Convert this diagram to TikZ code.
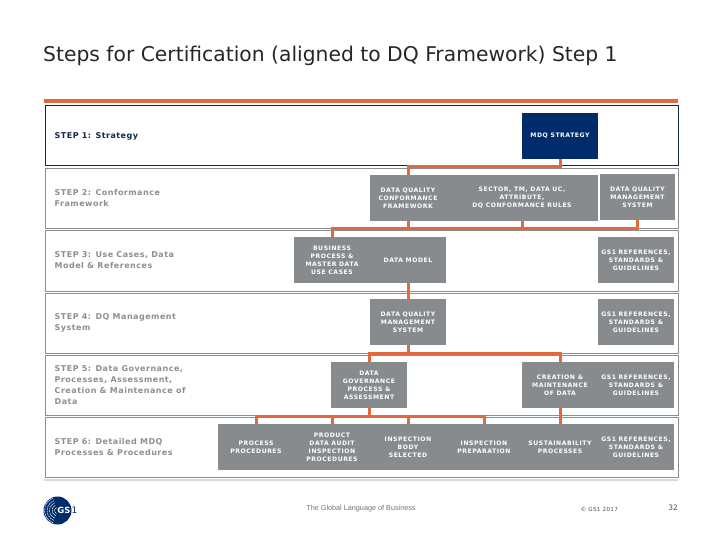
\documentclass[tikz,border=0pt]{standalone}
\usepackage{fontspec}
\setmainfont{DejaVu Sans}
\newfontfamily\boxfont[LetterSpace=9]{DejaVu Sans}
\newfontfamily\rowfont[LetterSpace=6]{DejaVu Sans}
\newfontfamily\footfont{Liberation Sans}
\definecolor{gsgray}{HTML}{888B8D}
\definecolor{gsorange}{HTML}{E0693F}
\definecolor{gsnavy}{HTML}{002C6C}
\definecolor{gsdark}{HTML}{0F2A47}
\definecolor{rowgray}{HTML}{8C8E90}
\tikzset{
 rowframe/.style={draw=rowgray,line width=0.9pt,minimum width=633pt,minimum height=60pt,inner sep=0pt,anchor=north west},
 rowlabel/.style={anchor=west,align=left,text=rowgray,inner sep=0pt,font=\rowfont\bfseries\fontsize{8}{10.9}\selectfont},
 gbox/.style={fill=gsgray,minimum width=76pt,minimum height=46pt,inner sep=0pt,align=center,text=white,font=\boxfont\bfseries\fontsize{6.1}{8.1}\selectfont},
 link/.style={draw=gsorange,line width=3pt}
}
\begin{document}
\begin{tikzpicture}[x=1pt,y=-1pt]
\useasboundingbox (0,0) rectangle (720,540);
\node[anchor=west,inner sep=0pt,font=\fontsize{20.3}{24}\selectfont,text=black!85] (title) at (43,56) {Steps for Certification (aligned to DQ Framework) Step 1};
\node[fill=gsorange,minimum width=634pt,minimum height=4.5pt,inner sep=0pt,anchor=north west] (topbar) at (44,98.5) {};
\node[rowframe,draw=gsdark] (r1) at (44.5,105) {};
\node[rowframe] (r2) at (44.5,168.5) {};
\node[rowframe] (r3) at (44.5,230.5) {};
\node[rowframe] (r4) at (44.5,292.5) {};
\node[rowframe] (r5) at (44.5,354.5) {};
\node[rowframe] (r6) at (44.5,417) {};
\node[fill=black!15,minimum width=634pt,minimum height=1.5pt,inner sep=0pt,anchor=north west] (shadow) at (44,479) {};
\node[rowlabel,text=gsdark] (l1) at (54.5,136) {STEP 1: Strategy};
\node[rowlabel] (l2) at (54.5,198) {STEP 2: Conformance\\Framework};
\node[rowlabel] (l3) at (54.5,260.5) {STEP 3: Use Cases, Data\\Model \& References};
\node[rowlabel] (l4) at (54.5,322.5) {STEP 4: DQ Management\\System};
\node[rowlabel] (l5) at (54.5,385) {STEP 5: Data Governance,\\Processes, Assessment,\\Creation \& Maintenance of\\Data};
\node[rowlabel] (l6) at (54.5,447) {STEP 6: Detailed MDQ\\Processes \& Procedures};
\node[gbox,fill=gsnavy] (mdq) at (560,136) {MDQ STRATEGY};
\node[gbox] (dqcf) at (408,198) {DATA QUALITY\\CONFORMANCE\\FRAMEWORK};
\node[gbox,minimum width=152pt] (sector) at (522,198) {SECTOR, TM, DATA UC,\\ATTRIBUTE,\\DQ CONFORMANCE RULES};
\node[gbox,minimum width=75pt] (dqms) at (637.5,197) {DATA QUALITY\\MANAGEMENT\\SYSTEM};
\node[gbox] (bp) at (332,260) {BUSINESS\\PROCESS \&\\MASTER DATA\\USE CASES};
\node[gbox] (dm) at (408,260) {DATA MODEL};
\node[gbox] (gsa) at (636,260) {GS1 REFERENCES,\\STANDARDS \&\\GUIDELINES};
\node[gbox] (dqm) at (408,322) {DATA QUALITY\\MANAGEMENT\\SYSTEM};
\node[gbox] (gsb) at (636,322) {GS1 REFERENCES,\\STANDARDS \&\\GUIDELINES};
\node[gbox] (dg) at (369,385) {DATA\\GOVERNANCE\\PROCESS \&\\ASSESSMENT};
\node[gbox] (cr) at (560,385) {CREATION \&\\MAINTENANCE\\OF DATA};
\node[gbox] (gsc) at (636,385) {GS1 REFERENCES,\\STANDARDS \&\\GUIDELINES};
\node[gbox] (pp) at (256,447) {PROCESS\\PROCEDURES};
\node[gbox] (pd) at (332,447) {PRODUCT\\DATA AUDIT\\INSPECTION\\PROCEDURES};
\node[gbox] (ib) at (408,447) {INSPECTION\\BODY\\SELECTED};
\node[gbox] (ip) at (484,447) {INSPECTION\\PREPARATION};
\node[gbox] (sp) at (560,447) {SUSTAINABILITY\\PROCESSES};
\node[gbox] (gsd) at (636,447) {GS1 REFERENCES,\\STANDARDS \&\\GUIDELINES};
% connectors
\draw[link] (mdq.south) -- ++(0,7.5) -| (dqcf.north);
\coordinate (busb) at (0,228.5);
\draw[link] (bp.north) |- (busb -| dqms.south) -- (dqms.south);
\draw[link] (dqcf.south) -- (dqcf.south |- busb);
\draw[link] (sector.south) -- (sector.south |- busb);
\draw[link] (dm.south) -- (dqm.north);
\coordinate (busc) at (0,353.5);
\draw[link] (dg.north) |- (busc -| cr.north) -- (cr.north);
\draw[link] (dqm.south) -- (dqm.south |- busc);
\coordinate (busd) at (0,416);
\draw[link] (pp.north) |- (busd -| ip.north) -- (ip.north);
\draw[link] (dg.south) -- (dg.south |- busd);
\draw[link] (pd.north) -- (pd.north |- busd);
\draw[link] (ib.north) -- (ib.north |- busd);
\draw[link] (cr.south) -- (sp.north);
% logo
\node[circle,fill=gsnavy,minimum size=28pt,inner sep=0pt] (logo) at (57.5,510.5) {};
\begin{scope}
\clip (57.5,510.5) circle (14pt);
\foreach \r in {3,5.5,8,10.5,13}{
 \draw[white,line width=0.5pt,dash pattern=on 2pt off 0.7pt] (57.5,510.5) ++(110:\r) arc[start angle=110,end angle=250,radius=\r];
}
\end{scope}
\node[inner sep=0pt,text=white,font=\bfseries\fontsize{8.5}{8.5}\selectfont] (logotext) at (64,510.5) {GS};
\node[inner sep=0pt,text=gsnavy,font=\fontsize{9}{9}\selectfont,anchor=west] (logoone) at (71.5,510.5) {1};
\node[inner sep=0pt,text=black!55,font=\footfont\fontsize{7.25}{9}\selectfont] (slogan) at (361,508.5) {The Global Language of Business};
\node[inner sep=0pt,text=black!70,font=\rowfont\fontsize{5.6}{7}\selectfont,anchor=west] (copy) at (580.5,509) {© GS1 2017};
\node[inner sep=0pt,text=black!70,font=\fontsize{7.5}{9}\selectfont,anchor=east] (pageno) at (678,508) {32};
\end{tikzpicture}
\end{document}
